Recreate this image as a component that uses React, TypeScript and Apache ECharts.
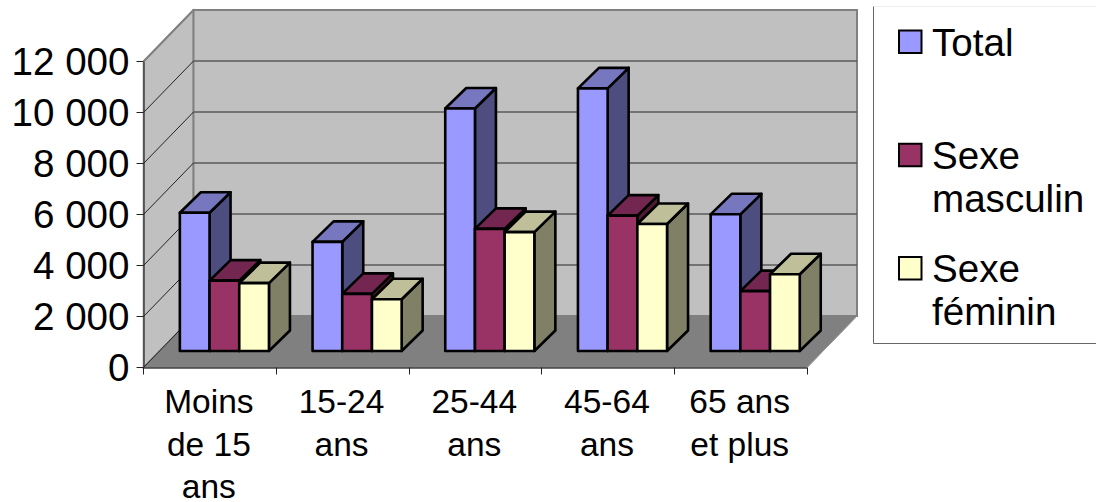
import React, { useEffect, useRef } from "react";
import * as echarts from "echarts";

const categories = ["Moins\nde 15\nans", "15-24\nans", "25-44\nans", "45-64\nans", "65 ans\net plus"];
const total = [5420, 4280, 9510, 10300, 5360];
const masculin = [2760, 2240, 4790, 5310, 2350];
const feminin = [2660, 2030, 4660, 4980, 3010];
const yTicks = [0, 2000, 4000, 6000, 8000, 10000, 12000];
const seriesNames = ["Total", "Sexe masculin", "Sexe féminin"];
const frontColors = ["#9999FF", "#993366", "#FFFFCC"];
const topColors = ["#7777C0", "#73264F", "#BFBF99"];
const sideColors = ["#4D4D80", "#4D1A33", "#808066"];
const legendLines = [["Total"], ["Sexe", "masculin"], ["Sexe", "féminin"]];

const FONT = "'Liberation Sans', Arial, sans-serif";
const G = { left: 143.5, top: 61.5, width: 663.5, height: 306 };
const WALL_DX = 50;
const WALL_DY = -51.5;
const BAR_W = 29.7;
const BAR_DEPTH_X = 21;
const BAR_DEPTH_Y = -20.5;
const BAR_BASE_DY = -16.5;
const BAR_START = -30;

function barSeries(idx: number, values: number[]) {
  return {
    type: "custom",
    name: seriesNames[idx],
    coordinateSystem: "cartesian2d",
    z: 5 + idx,
    clip: false,
    silent: true,
    data: values.map((v, i) => [i, v]),
    encode: { x: 0, y: 1 },
    renderItem: (_p: any, api: any) => {
      const top = api.coord([api.value(0), api.value(1)]);
      const base = api.coord([api.value(0), 0]);
      const x0 = top[0] + BAR_START + idx * BAR_W;
      const x1 = x0 + BAR_W;
      const yb = base[1] + BAR_BASE_DY;
      const yt = top[1] + BAR_BASE_DY;
      const dx = BAR_DEPTH_X;
      const dy = BAR_DEPTH_Y;
      const edge = { stroke: "#000", lineWidth: 2.6, lineJoin: "round" };
      return {
        type: "group",
        children: [
          { type: "polygon", shape: { points: [[x1, yb], [x1 + dx, yb + dy], [x1 + dx, yt + dy], [x1, yt]] }, style: { fill: sideColors[idx], ...edge } },
          { type: "polygon", shape: { points: [[x0, yt], [x0 + dx, yt + dy], [x1 + dx, yt + dy], [x1, yt]] }, style: { fill: topColors[idx], ...edge } },
          { type: "rect", shape: { x: x0, y: yt, width: BAR_W, height: yb - yt }, style: { fill: frontColors[idx], ...edge } },
        ],
      };
    },
  };
}

function legendGraphics() {
  const out: any[] = [
    { type: "rect", z: 0, shape: { x: 873.5, y: 6.5, width: 240, height: 337 }, style: { fill: "#fff", stroke: "#eeeeee", lineWidth: 1 } },
    { type: "line", z: 1, shape: { x1: 873.5, y1: 6.5, x2: 873.5, y2: 343.5 }, style: { stroke: "#666", lineWidth: 1 } },
    { type: "line", z: 1, shape: { x1: 873.5, y1: 343.5, x2: 1096, y2: 343.5 }, style: { stroke: "#666", lineWidth: 1 } },
  ];
  legendLines.forEach((lines, i) => {
    const top = 30.5 + i * 113.2;
    out.push({ type: "rect", z: 1, shape: { x: 899, y: top, width: 22.5, height: 22.5 }, style: { fill: frontColors[i], stroke: "#000", lineWidth: 2 } });
    lines.forEach((t, j) => {
      out.push({
        type: "text", z: 1, x: 932, y: top - 8 + j * 43.5,
        style: { text: t, font: `38.6px ${FONT}`, fill: "#000" },
      });
    });
  });
  return out;
}

function wallGraphics() {
  const l = G.left, t = G.top, r = G.left + G.width, b = G.top + G.height;
  const dx = WALL_DX, dy = WALL_DY;
  const edge = { stroke: "#808080", lineWidth: 2 };
  return [
    { type: "polygon", z: 0, shape: { points: [[l, t], [l + dx, t + dy], [l + dx, b + dy], [l, b]] }, style: { fill: "#C0C0C0", stroke: "#808080", lineWidth: 1.5 } },
    { type: "polygon", z: 0, shape: { points: [[l, b], [l + dx, b + dy], [r + dx, b + dy], [r, b]] }, style: { fill: "#808080", stroke: "#808080", lineWidth: 1 } },
    { type: "rect", z: 0, shape: { x: l + dx, y: t + dy, width: r - l, height: b - t }, style: { fill: "#C0C0C0", ...edge } },
    { type: "line", z: 1, shape: { x1: r, y1: b, x2: r + dx, y2: b + dy }, style: { stroke: "#999", lineWidth: 1 } },
  ];
}

export default function App() {
  const ref = useRef<HTMLDivElement>(null);
  useEffect(() => {
    const chart = echarts.init(ref.current!, undefined, { renderer: "svg" });
    chart.setOption({
      animation: false,
      backgroundColor: "#fff",
      textStyle: { fontFamily: FONT },
      grid: { left: G.left, top: G.top, width: G.width, height: G.height, outerBoundsMode: "none", containLabel: false },
      xAxis: {
        type: "category",
        data: categories,
        axisLine: { show: true, lineStyle: { color: "#444", width: 1.5 } },
        axisTick: { show: true, length: 7, lineStyle: { color: "#222", width: 1 } },
        axisLabel: { interval: 0, color: "#000", fontSize: 33.5, fontFamily: FONT, lineHeight: 42.4, margin: 13, hideOverlap: false, padding: [0, 2, 0, 0] },
      },
      yAxis: {
        type: "value",
        min: 0,
        max: 12000,
        interval: 2000,
        splitLine: { show: false },
        axisLine: { show: true, lineStyle: { color: "#444", width: 1.5 } },
        axisTick: { show: true, length: 7, lineStyle: { color: "#222", width: 1 } },
        axisLabel: {
          color: "#000", fontSize: 38.6, fontFamily: FONT, margin: 14,
          formatter: (v: number) => String(v).replace(/\B(?=(\d{3})+$)/g, " "),
        },
      },
      graphic: [...wallGraphics(), ...legendGraphics()],
      series: [
        {
          type: "custom",
          name: "Quadrillage",
          coordinateSystem: "cartesian2d",
          z: 1,
          clip: false,
          silent: true,
          data: yTicks.map((v) => [0, v]),
          encode: { x: 0, y: 1 },
          renderItem: (_p: any, api: any) => {
            const y = api.coord([0, api.value(1)])[1];
            const v = api.value(1);
            const isFloor = v === 0;
            const isTop = v === yTicks[yTicks.length - 1];
            return {
              type: "group",
              children: [
                { type: "line", shape: { x1: G.left, y1: y, x2: G.left + WALL_DX, y2: y + WALL_DY }, style: { stroke: isTop ? "#808080" : "#222", lineWidth: isTop ? 2 : 1 } },
                { type: "line", shape: { x1: G.left + WALL_DX, y1: y + WALL_DY, x2: G.left + WALL_DX + G.width, y2: y + WALL_DY }, style: { stroke: isTop || isFloor ? "#808080" : "#5a5a5a", lineWidth: 1.6 } },
              ],
            };
          },
        },
        barSeries(0, total),
        barSeries(1, masculin),
        barSeries(2, feminin),
      ],
    });
    return () => chart.dispose();
  }, []);
  return <div ref={ref} style={{ position: "fixed", left: 0, top: 0, width: 1096, height: 502, fontKerning: "none" }} />;
}
